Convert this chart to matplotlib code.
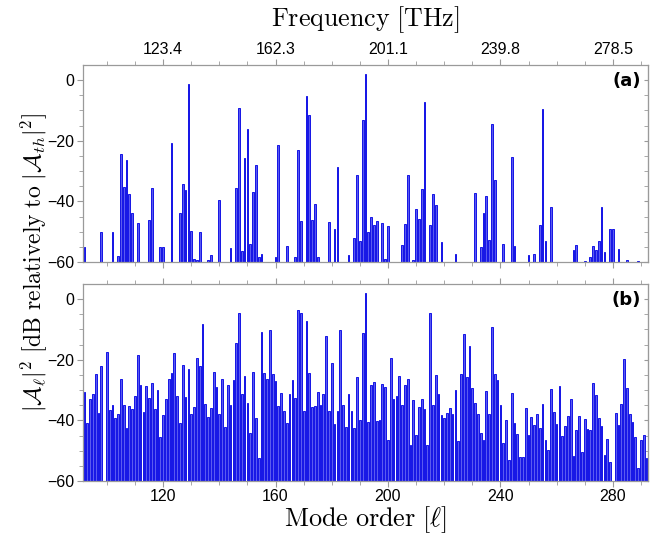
import numpy as np
import matplotlib
matplotlib.use('Agg')
import matplotlib.pyplot as plt

plt.rcParams['mathtext.fontset'] = 'cm'
plt.rcParams['font.family'] = 'Liberation Sans'

# panel (a): only the excited modes
modes_a = [92, 98, 102, 104, 105, 106, 107, 108, 109, 111, 115, 116, 119, 120,
           123, 126, 127, 128, 129, 130, 131, 132, 133, 136, 137, 140, 144, 146,
           147, 148, 149, 150, 151, 152, 153, 154, 155, 160, 161, 164, 167, 168,
           169, 171, 172, 173, 174, 175, 179, 181, 182, 186, 188, 189, 190, 191,
           192, 193, 194, 195, 196, 198, 199, 200, 205, 206, 207, 209, 210, 211,
           212, 213, 215, 216, 217, 219, 224, 231, 233, 234, 235, 236, 237, 238,
           241, 244, 245, 250, 252, 254, 255, 256, 258, 266, 267, 270, 272, 273,
           274, 275, 276, 277, 279, 280, 282, 285, 289]
level_a = [-55.0, -50.0, -50.0, -57.9, -24.4, -35.2, -26.5, -37.7, -43.8, -47.2, -46.2, -35.6, -55.2, -55.2,
           -20.8, -43.8, -34.1, -36.3, -1.4, -49.9, -59.0, -59.5, -50.0, -59.5, -57.8, -39.4, -55.3, -35.5,
           -9.2, -56.5, -25.6, -16.1, -54.0, -37.0, -28.1, -58.5, -57.3, -58.5, -21.3, -54.6, -58.4, -23.0,
           -46.6, -5.2, -11.5, -46.2, -40.8, -58.4, -46.9, -49.1, -28.8, -57.6, -52.2, -31.4, -53.2, -13.2,
           2.0, -50.1, -45.0, -47.7, -46.4, -47.2, -59.0, -48.0, -54.3, -47.5, -31.3, -59.5, -42.5, -45.7,
           -35.8, -7.3, -47.9, -37.6, -41.1, -53.4, -57.5, -37.3, -55.2, -43.7, -38.1, -52.9, -14.5, -32.9,
           -54.1, -25.2, -54.6, -57.8, -57.3, -47.7, -9.5, -53.2, -42.0, -55.9, -54.3, -59.7, -58.4, -54.8,
           -55.9, -53.2, -41.9, -56.7, -49.0, -49.0, -55.7, -59.2, -59.8]

# panel (b): every mode from 92 to 292 (nan = below -60 dB)
modes_b = list(range(92, 293))
level_b = [
    -30.7, -40.8, -32.8, -31.2, -24.6, -37.6, -22.1, np.nan, -17.5, -36.7,  # 92
    -34.8, -39.1, -38.0, -26.4, -35.0, -42.5, -35.4, -36.2, -32.0, -18.3,   # 102
    -28.2, -37.2, -28.8, -32.6, -27.7, -36.1, -30.1, -45.4, -38.2, -32.8,   # 112
    -26.3, -24.3, -17.7, -32.1, -40.9, -21.7, -32.3, -23.2, -37.8, -35.7,   # 122
    -19.4, -21.9, -8.2, -34.7, -39.0, -35.9, -24.0, -28.9, -37.8, -26.5,    # 132
    -42.2, -28.2, -34.9, -26.7, -14.3, -4.7, -31.4, -25.3, -34.1, -44.0,    # 142
    -23.9, -39.2, -52.3, -10.8, -24.4, -26.5, -10.1, -24.6, -26.9, -35.4,   # 152
    -31.0, -36.9, -40.8, -31.4, -26.8, -32.5, -3.5, -4.7, -37.0, -7.1,      # 162
    -24.3, -35.6, -35.4, -30.7, -35.0, -31.2, -12.0, -36.9, -20.9, -41.1,   # 172
    -36.9, -10.2, -35.0, -42.2, -31.2, -37.0, -42.6, -25.8, -40.0, -11.2,   # 182
    2.0, -40.5, -28.2, -27.4, -40.3, -39.9, -28.0, -29.0, -46.5, -19.4,     # 192
    -33.0, -32.1, -25.5, -35.0, -28.2, -26.5, -48.2, -33.4, -44.8, -35.6,   # 202
    -32.8, -36.1, -48.2, -4.5, -34.8, -25.0, -31.4, -38.3, -39.1, -37.6,    # 212
    -36.0, -38.0, -29.9, -46.8, -24.6, -11.5, -25.7, -15.3, -29.2, -34.3,   # 222
    -38.0, -44.1, -46.3, -30.4, -37.8, -9.1, -24.7, -26.8, -34.8, -47.6,    # 232
    -40.0, -52.9, -30.9, -40.8, -44.5, -52.0, -52.0, -35.8, -44.7, -38.9,   # 242
    -41.6, -37.9, -42.6, -34.7, -46.5, -49.6, -29.6, -37.3, -41.3, -28.5,   # 252
    -45.2, -41.7, -38.5, -32.8, -51.7, -43.2, -38.5, -50.5, -39.7, -42.7,   # 262
    -43.2, -27.6, -31.5, -39.2, -41.9, -51.5, -46.2, -53.7, np.nan, -37.4,  # 272
    -41.4, -34.5, -19.7, -29.2, -37.8, -40.5, -45.4, -55.6, -46.5, -44.9,   # 282
    -52.3,                                                                  # 292
]

mode_ticks = [120, 160, 200, 240, 280]
freq_labels = ['123.4', '162.3', '201.1', '239.8', '278.5']

floor = -60
spine_col = '#9a9a9a'
bar_face = '#5a5af0'
bar_edge = '#1414e6'

fig = plt.figure(figsize=(6.65, 5.38), dpi=100)
ax_a = fig.add_axes([0.1248, 0.513, 0.8496, 0.3662])
ax_b = fig.add_axes([0.1248, 0.1059, 0.8496, 0.3662])


def style_axis(ax):
    ax.set_xlim(91.5, 292.5)
    ax.set_ylim(-60, 5)
    for sp in ax.spines.values():
        sp.set_color(spine_col)
        sp.set_linewidth(0.9)
    ax.set_xticks(mode_ticks)
    ax.set_xticks(np.arange(100, 293, 10), minor=True)
    ax.set_yticks([0, -20, -40, -60])
    ax.set_yticks(np.arange(-60, 1, 5), minor=True)
    ax.tick_params(which='both', direction='out', color=spine_col, top=True,
                   labelsize=11.5, pad=2)
    ax.tick_params(which='major', length=4)
    ax.tick_params(which='minor', length=3)
    # inward ticks on the right side
    sec = ax.secondary_yaxis('right')
    sec.set_yticks([0, -20, -40, -60])
    sec.set_yticks(np.arange(-60, 1, 5), minor=True)
    sec.tick_params(which='both', direction='in', length=3, color=spine_col,
                    labelright=False)
    sec.spines['right'].set_color(spine_col)


def draw_bars(ax, modes, levels):
    modes = np.asarray(modes, dtype=float)
    levels = np.asarray(levels, dtype=float)
    ok = ~np.isnan(levels)
    ax.bar(modes[ok], levels[ok] - floor, bottom=floor, width=0.62,
           color=bar_face, edgecolor=bar_edge, linewidth=0.7, zorder=2)


draw_bars(ax_a, modes_a, level_a)
draw_bars(ax_b, modes_b, level_b)
style_axis(ax_a)
style_axis(ax_b)

# panel (a): frequency labels on top, no bottom labels
ax_a.tick_params(labelbottom=False, labeltop=True)
ax_a.set_xticklabels(freq_labels)
ax_a.set_xlabel(r'$\mathrm{Frequency\ [THz]}$', fontsize=18.7, labelpad=11)
ax_a.xaxis.set_label_position('top')

ax_b.set_xlabel(r'$\mathrm{Mode\ order\ [}\ell\mathrm{]}$', fontsize=18.9, labelpad=0)

fig.text(0.05, 0.512,
         r'$|\mathcal{A}_\ell|^2\ \mathrm{[dB\ relatively\ to\ }|\mathcal{A}_{th}|^2\mathrm{]}$',
         rotation=90, ha='center', va='center', fontsize=17)

ax_a.text(0.988, 0.965, '(a)', transform=ax_a.transAxes, ha='right', va='top',
          fontsize=13, fontweight='bold', family='DejaVu Sans')
ax_b.text(0.988, 0.965, '(b)', transform=ax_b.transAxes, ha='right', va='top',
          fontsize=13, fontweight='bold', family='DejaVu Sans')

fig.savefig('out.png', dpi=100)
